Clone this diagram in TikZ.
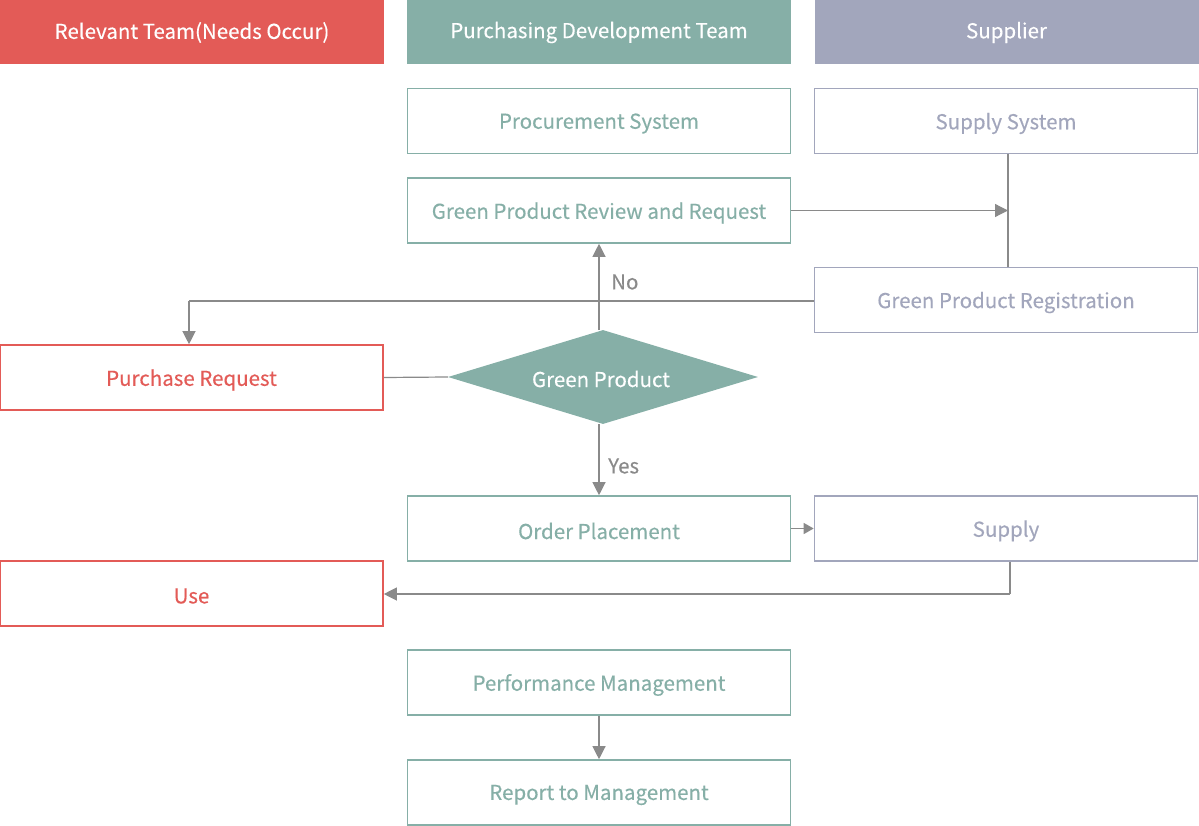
\documentclass[tikz,border=0pt]{standalone}
\usepackage{fontspec}
\setmainfont{Noto Sans CJK KR}[FakeBold=0.25]
\usetikzlibrary{arrows.meta,shapes.geometric}
\definecolor{cred}{HTML}{E35B57}
\definecolor{cteal}{HTML}{86AFA7}
\definecolor{cgray}{HTML}{A2A6BC}
\definecolor{cline}{HTML}{8A8A8A}
\newcommand{\lowtxt}[1]{\raisebox{-2.5pt}[\height][\depth]{#1}}
\tikzset{
  hdr/.style={draw=none,fill=#1,text=white,minimum width=384pt,minimum height=64pt,inner sep=0pt,font=\fontsize{20.5}{24}\selectfont},
  bx/.style={draw=#1,line width=1.6pt,fill=white,text=#1,minimum width=383pt,minimum height=65pt,inner sep=0pt,font=\fontsize{20.5}{24}\selectfont},
  conn/.style={draw=cline,line width=1.2pt},
  arr/.style={conn,-{Triangle[length=13pt,width=13pt]}},
  lbl/.style={text=cline,font=\fontsize{20.5}{24}\selectfont,inner sep=0pt}
}
\begin{document}
\begin{tikzpicture}[x=1pt,y=-1pt]
\useasboundingbox (0,0) rectangle (1199,826);
% headers
\node[hdr=cred] (h1) at (192,32) {\raisebox{-0.5pt}[\height][\depth]{Relevant Team(Needs Occur)}};
\node[hdr=cteal] (h2) at (599,32) {\raisebox{-0.5pt}[\height][\depth]{Purchasing Development Team}};
\node[hdr=cgray] (h3) at (1006.5,32) {\raisebox{-0.5pt}[\height][\depth]{Supplier}};
% boxes
\node[bx=cteal] (ps) at (599,121) {\lowtxt{Procurement System}};
\node[bx=cgray] (ss) at (1006,121) {\lowtxt{Supply System}};
\node[bx=cteal] (rev) at (599,210.5) {\lowtxt{Green Product Review and Request}};
\node[bx=cgray] (reg) at (1006,300) {\lowtxt{Green Product Registration}};
\node[bx=cred] (pr) at (191.5,377.5) {\lowtxt{Purchase Request}};
\node[diamond,fill=cteal,minimum width=310pt,minimum height=94pt,inner sep=0pt,aspect=3.3] (gp) at (603,377) {};
\node[text=white,font=\fontsize{20.5}{24}\selectfont] (gpt) at (601,379) {Green Product};
\node[bx=cteal] (op) at (599,528.5) {\lowtxt{Order Placement}};
\node[bx=cgray] (sup) at (1006,528.5) {\lowtxt{Supply}};
\node[bx=cred] (use) at (191.5,593.5) {\lowtxt{Use}};
\node[bx=cteal] (pm) at (599,682.5) {\lowtxt{Performance Management}};
\node[bx=cteal] (rm) at (599,792.5) {\lowtxt{Report to Management}};
% coordinates
\coordinate (j1) at (1008,210.5);
\coordinate (j2) at (189,301);
\coordinate (j3) at (1010,594);
% connectors
\draw[conn] (ss.south -| j1) -- (reg.north -| j1);
\draw[arr] (rev.east) -- (j1);
\draw[conn] (reg.west |- j2) -- (j2);
\draw[arr] (j2) -- (pr.north -| j2);
\draw[arr] (599,330) -- (rev.south);
\node[lbl,anchor=west] (no) at (611,282) {No};
\draw[conn] (pr.east) -- (gp.west);
\draw[arr] (599,424) -- (op.north);
\node[lbl,anchor=west] (yes) at (608,466) {Yes};
\draw[conn,-{Triangle[length=10pt,width=11pt]}] (op.east) -- (sup.west);
\draw[conn] (sup.south -| j3) -- (j3);
\draw[arr] (j3) -- (use.east |- j3);
\draw[arr] (pm.south) -- (rm.north);
\end{tikzpicture}
\end{document}
